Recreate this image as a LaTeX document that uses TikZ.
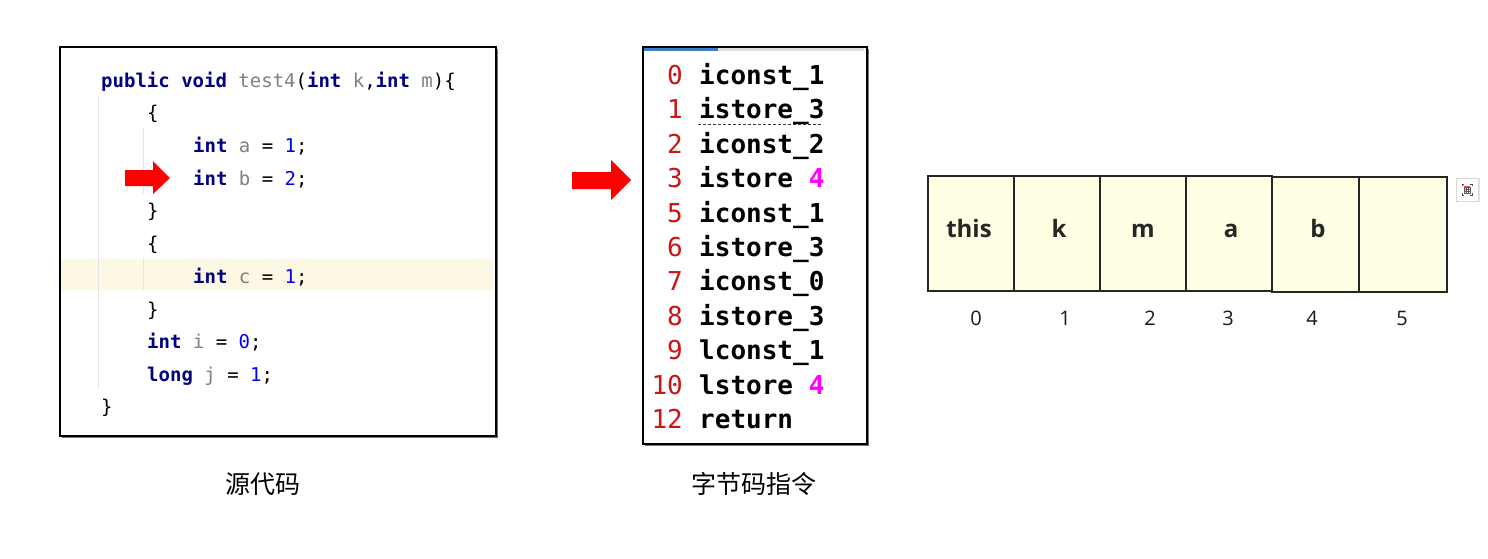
\documentclass[tikz,border=0pt]{standalone}
\usepackage{fontspec}
\setmainfont{Open Sans}
\newfontfamily\codefont{DejaVu Sans Mono}
\newfontfamily\cjkfont{Noto Sans CJK SC}
\definecolor{kwnavy}{HTML}{000080}
\definecolor{idgray}{HTML}{808080}
\definecolor{numblue}{HTML}{0000FF}
\definecolor{rowhl}{HTML}{FDF8E3}
\definecolor{guide}{HTML}{E4E4E4}
\definecolor{offred}{HTML}{CC1414}
\definecolor{opmag}{HTML}{FF00FF}
\definecolor{cellfill}{HTML}{FFFFE4}
\definecolor{tabblue}{HTML}{3F7CC8}
\newcommand{\ckw}[1]{\textcolor{kwnavy}{\bfseries #1}}
\newcommand{\cid}[1]{\textcolor{idgray}{#1}}
\newcommand{\cnum}[1]{\textcolor{numblue}{#1}}
\newcommand{\cmag}[1]{\textcolor{opmag}{#1}}
\begin{document}
\begin{tikzpicture}[x=1pt,y=-1pt,
  codeline/.style={anchor=base west,inner sep=0pt,font=\codefont\fontsize{19}{19}\selectfont},
  bcnum/.style={anchor=base east,inner sep=0pt,text=offred,font=\codefont\fontsize{26}{26}\selectfont},
  bcop/.style={anchor=base west,inner sep=0pt,font=\codefont\bfseries\fontsize{26}{26}\selectfont},
  slot/.style={draw=black!85,line width=1.4pt,fill=cellfill,minimum height=115pt,inner sep=0pt},
  slotname/.style={anchor=base,inner sep=0pt,font=\bfseries\fontsize{24}{24}\selectfont,text=black!85},
  slotidx/.style={anchor=base,inner sep=0pt,font=\fontsize{20}{20}\selectfont,text=black!90},
  caption/.style={inner sep=0pt,font=\cjkfont\fontsize{25}{25}\selectfont},
  fatarrow/.style={fill=red,draw=none},
  panel/.style={draw=black,line width=1.6pt,fill=white},
  panelshadow/.style={fill=black!55,draw=none}]
\useasboundingbox (0,0) rectangle (1488,558);

% ---- source code panel ----
\fill[panelshadow] (62,49) rectangle (498,438);
\node[panel,anchor=north west,minimum width=436pt,minimum height=389pt,inner sep=0pt] (src) at (59,46) {};
\fill[rowhl] (61,259) rectangle (493,290);
\draw[guide,line width=1pt] (98,97) -- (98,388);
\draw[guide,line width=1pt] (143,128) -- (143,194);
\draw[guide,line width=1pt] (143,258) -- (143,290);

\node[codeline] (l1) at (101,87) {\ckw{public} \ckw{void} \cid{test4}(\ckw{int} \cid{k},\ckw{int} \cid{m})\{};
\node[codeline] (l2) at (147,119.5) {\{};
\node[codeline] (l3) at (193,152) {\ckw{int} \cid{a} = \cnum{1};};
\node[codeline] (l4) at (193,185) {\ckw{int} \cid{b} = \cnum{2};};
\node[codeline] (l5) at (147,217) {\}};
\node[codeline] (l6) at (147,250) {\{};
\node[codeline] (l7) at (193,283) {\ckw{int} \cid{c} = \cnum{1};};
\node[codeline] (l8) at (147,316) {\}};
\node[codeline] (l9) at (147,348) {\ckw{int} \cid{i} = \cnum{0};};
\node[codeline] (l10) at (147,381) {\ckw{long} \cid{j} = \cnum{1};};
\node[codeline] (l11) at (101,413) {\}};

% current-line marker in the source
\fill[fatarrow] (125,170) -- (153,170) -- (153,161) -- (170,178) -- (153,194) -- (153,186) -- (125,186) -- cycle;

\node[caption] (srccap) at (263,484) {源代码};

% ---- bytecode panel ----
\fill[panelshadow] (645,49) rectangle (869,446);
\node[panel,anchor=north west,minimum width=224pt,minimum height=397pt,inner sep=0pt] (bc) at (642,46) {};
\fill[black!12] (718,47.5) rectangle (864,50.5);
\fill[tabblue] (644,47.5) rectangle (718,50.5);

\foreach \n/\op/\y [count=\k] in {0/iconst\_1/84, 1/istore\_3/118, 2/iconst\_2/153, 3/istore \cmag{4}/187,
  5/iconst\_1/222, 6/istore\_3/256, 7/iconst\_0/290, 8/istore\_3/325, 9/lconst\_1/359,
  10/lstore \cmag{4}/394, 12/return/428}{
  \node[bcnum] (n\k) at (683,\y) {\n};
  \node[bcop] (op\k) at (699,\y) {\op};
}
\draw[black!80,line width=1pt,dash pattern=on 3pt off 2pt] (698,124.5) -- (823,124.5);

% current-instruction marker
\fill[fatarrow] (572,172) -- (611,172) -- (611,160) -- (631,180) -- (611,200) -- (611,189) -- (572,189) -- cycle;

\node[caption] (bccap) at (754,484) {字节码指令};

% ---- local variable slots ----
\node[slot,minimum width=86pt] (s0) at (971,233.5) {};
\node[slot,minimum width=86pt] (s1) at (1057,233.5) {};
\node[slot,minimum width=86pt] (s2) at (1143,233.5) {};
\node[slot,minimum width=86pt] (s3) at (1229,233.5) {};
\node[slot,minimum width=87pt] (s4) at (1315.5,234.5) {};
\node[slot,minimum width=88pt] (s5) at (1403,234.5) {};

\node[slotname] (t0) at (969,237) {this};
\node[slotname] (t1) at (1059,237) {k};
\node[slotname] (t2) at (1143,237) {m};
\node[slotname] (t3) at (1231,237) {a};
\node[slotname] (t4) at (1318,237.5) {b};

\foreach \i/\x in {0/976,1/1065,2/1150,3/1228,4/1312,5/1402}{
  \node[slotidx] (i\i) at (\x,325) {\i};
}

% small toolbar icon beside the slots
\fill[black!10] (1455.5,177.5) rectangle (1479.5,202);
\node[draw=black!15,fill=white,minimum width=22pt,minimum height=23pt,inner sep=0pt] (tool) at (1467,189.5) {};
\draw[black!70,line width=0.6pt] (1462,186) -- (1462,184) -- (1464,184)
  (1470,184) -- (1472,184) -- (1472,186)
  (1462,193) -- (1462,195) -- (1464,195)
  (1470,195) -- (1472,195) -- (1472,193);
\draw[red!70,line width=0.7pt] (1464,186) -- (1470,186);
\draw[black!65,line width=0.5pt] (1464,187.5) rectangle (1470,193)
  (1464,189.3) -- (1470,189.3) (1464,191.2) -- (1470,191.2)
  (1466,187.5) -- (1466,193) (1468,187.5) -- (1468,193);
\end{tikzpicture}
\end{document}
